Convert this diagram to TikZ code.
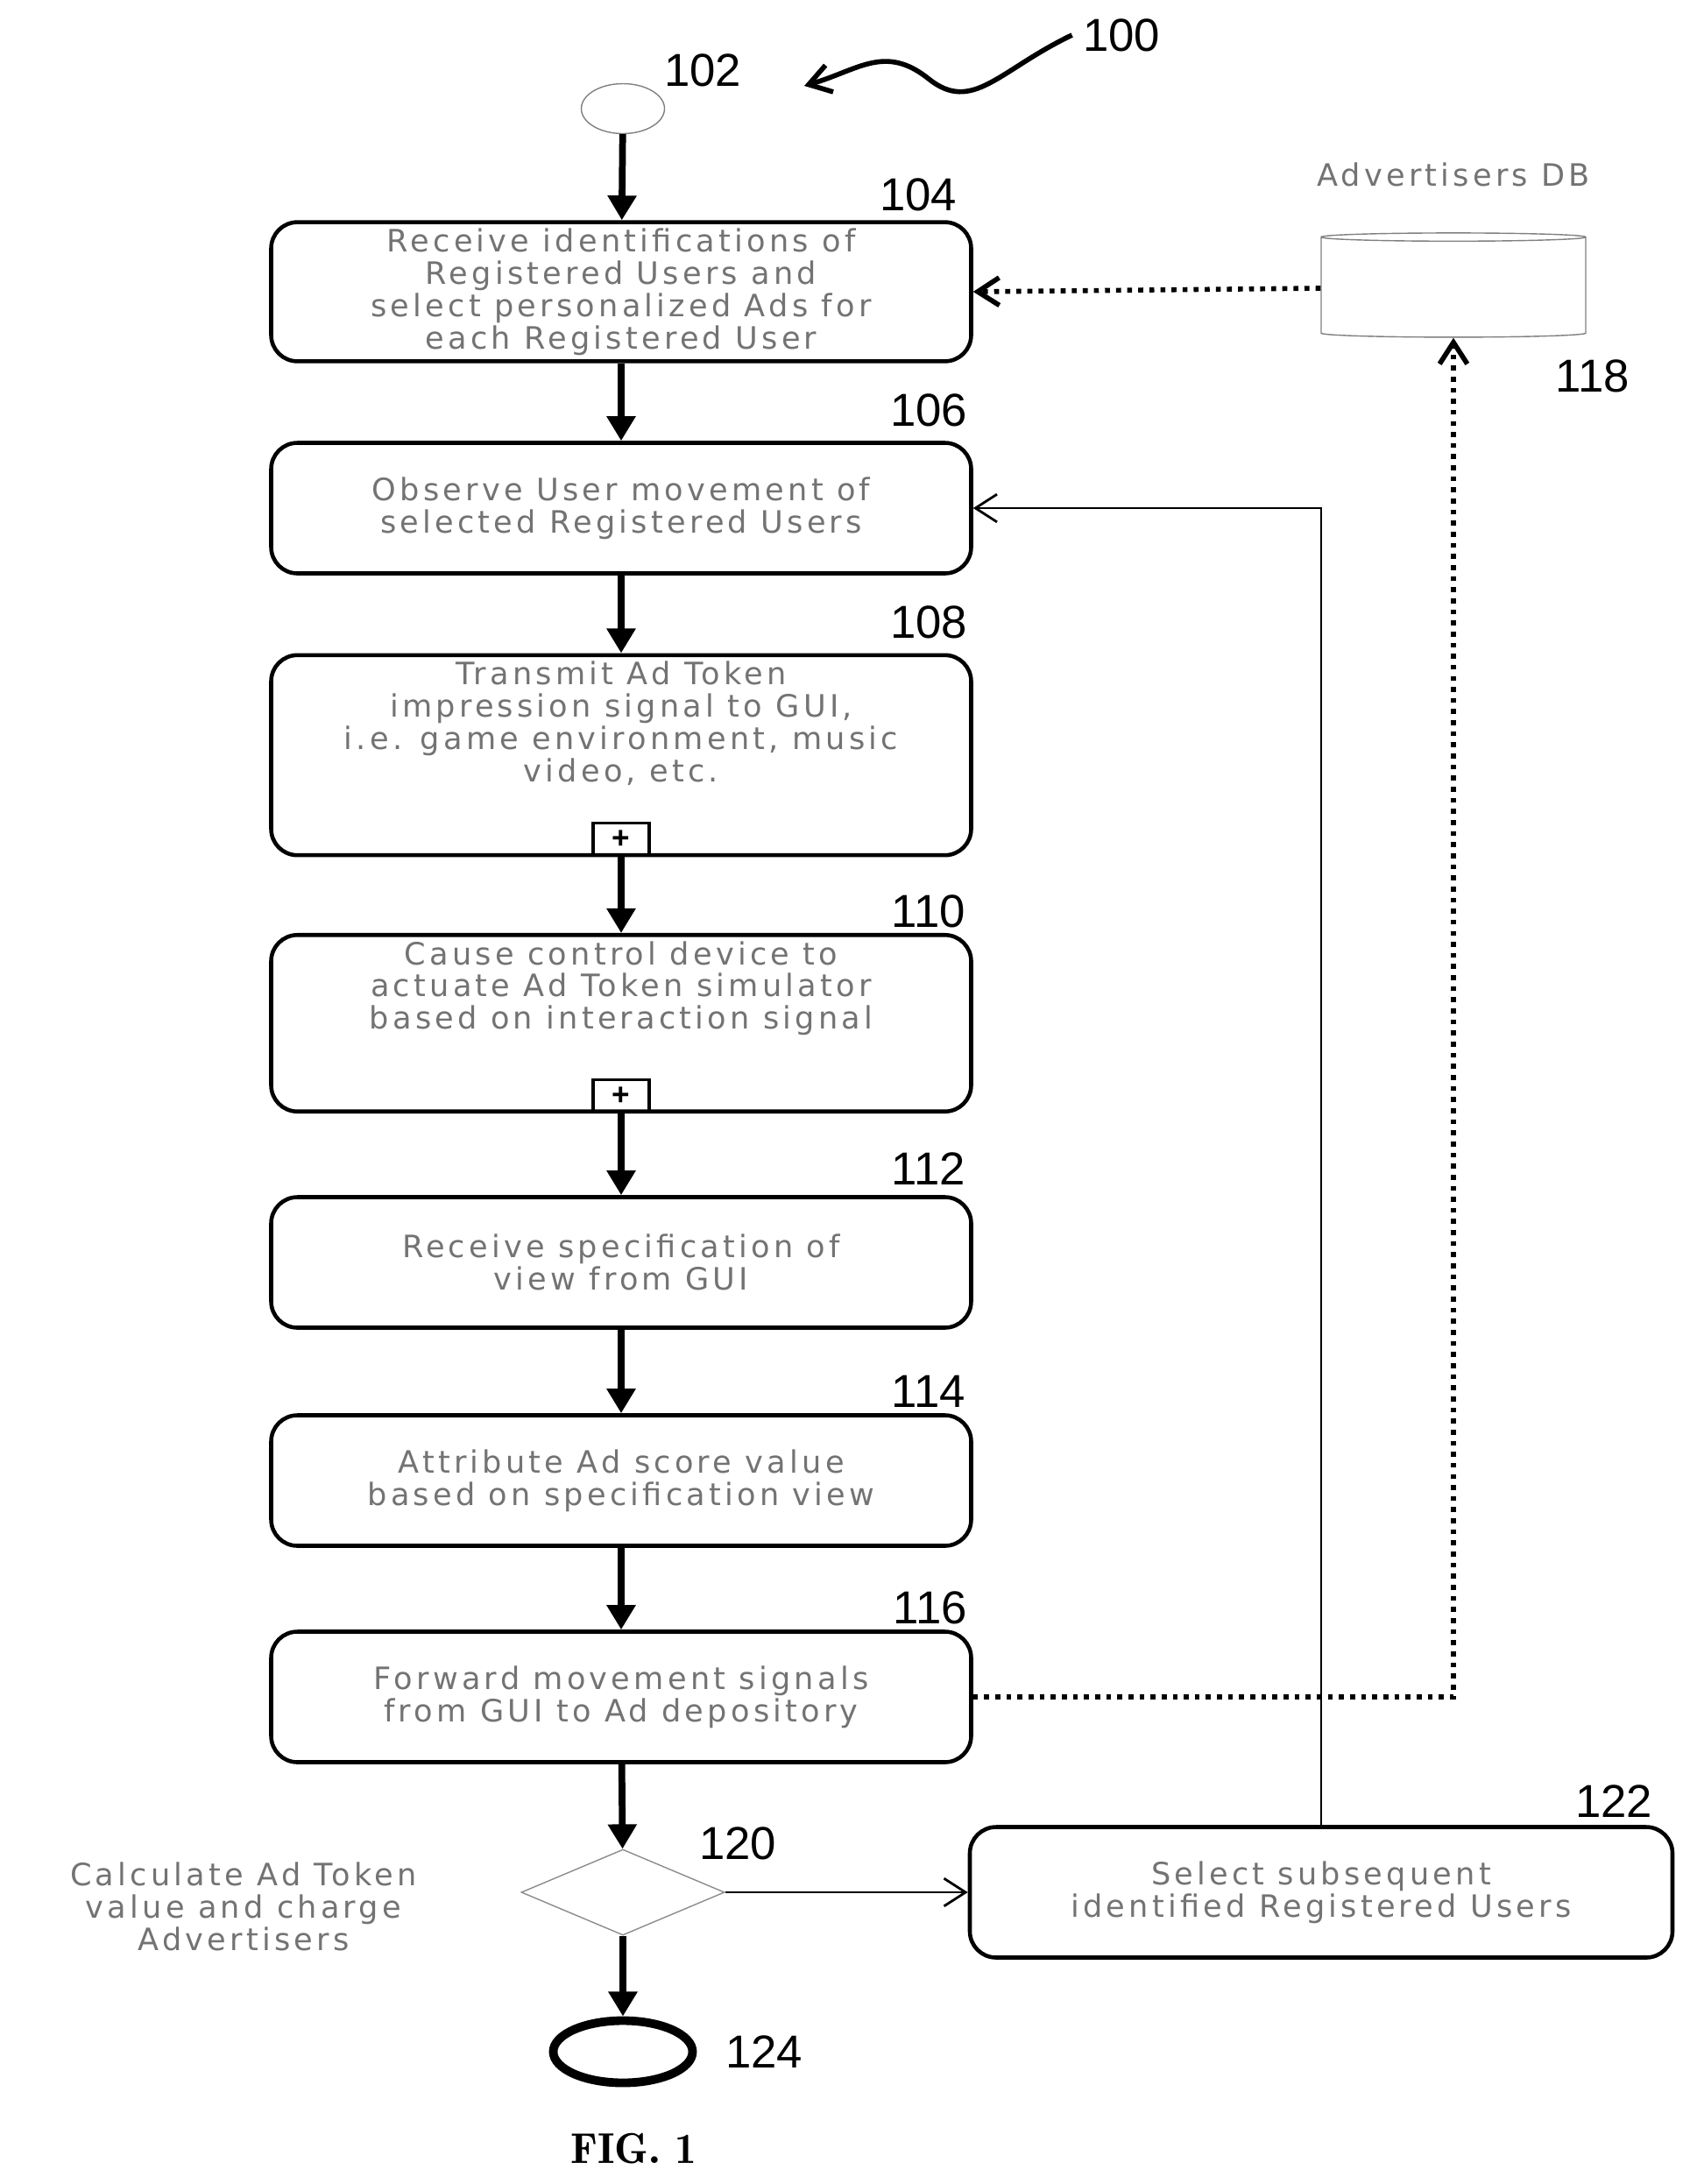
\documentclass[tikz,border=0pt]{standalone}
\usepackage{fontspec}
\setmainfont{Liberation Sans}
\newfontfamily\boxfont[LetterSpace=12]{DejaVu Sans}
\usetikzlibrary{shapes.geometric,positioning,arrows.meta}
\begin{document}
\begin{tikzpicture}[
  proc/.style={draw, line width=1.3pt, rounded corners=0.3cm, minimum width=7.99cm, inner sep=2pt,
    minimum height=1.49cm, align=center, text=black!55, font=\boxfont\fontsize{10}{10.5}\selectfont},
  num/.style={font=\fontsize{15}{17}\selectfont},
  flow/.style={-{Triangle[length=8pt,width=9pt]}, line width=2.2pt},
  link/.style={-{Straight Barb[length=7pt,width=9pt]}, line width=0.8pt},
  dots/.style={-{Straight Barb[length=7pt,width=9pt]}, line width=1.6pt, dotted},
  plus/.style={draw, line width=1pt, minimum width=0.64cm, minimum height=0.37cm, inner sep=0pt, font=\bfseries}]
   \useasboundingbox (0,0) rectangle (19.37,-24.93);
   \node[ellipse, draw=black!50, minimum width=0.95cm, minimum height=0.57cm] (start) at (7.11,-1.24) {};
   \node[proc] (b104) at (7.09,-3.33) {Receive identifications of\\Registered Users and\\select personalized Ads for\\each Registered User};
   \node[proc] (b106) at (7.09,-5.80) {Observe User movement of\\selected Registered Users};
   \node[proc, minimum height=2.14cm] (b108) at (7.09,-8.62) {Transmit Ad Token\\impression signal to GUI,\\i.e. game environment, music\\video, etc.\\[0.4cm]};
   \node[plus, anchor=south] (p108) at (b108.south) {+};
   \node[proc, minimum height=1.99cm] (b110) at (7.09,-11.68) {Cause control device to\\actuate Ad Token simulator\\based on interaction signal\\[0.5cm]};
   \node[plus, anchor=south] (p110) at (b110.south) {+};
   \node[proc] (b112) at (7.09,-14.41) {Receive specification of\\view from GUI};
   \node[proc] (b114) at (7.09,-16.90) {Attribute Ad score value\\based on specification view};
   \node[proc] (b116) at (7.09,-19.37) {Forward movement signals\\from GUI to Ad depository};
   \node[diamond, draw=black!45, minimum width=2.32cm, minimum height=0.98cm, inner sep=0pt] (d120) at (7.11,-21.60) {};
   \node[proc, minimum width=8.02cm] (b122) at (15.08,-21.60) {Select subsequent\\identified Registered Users};
   \node[ellipse, draw, line width=2.8pt, minimum width=1.59cm, minimum height=0.71cm] (end) at (7.11,-23.42) {};
   \node[cylinder, shape border rotate=90, draw=black!50, aspect=0.4, minimum width=3.02cm, minimum height=1.19cm] (db) at (16.59,-3.29) {};

   % labels
   \node[num] (l100) at (12.80,-0.40) {100};
   \node[num] at (8.02,-0.80) {102};
   \node[num] at (10.48,-2.22) {104};
   \node[num] at (10.60,-4.68) {106};
   \node[num] at (10.60,-7.10) {108};
   \node[num] at (10.60,-10.40) {110};
   \node[num] at (10.60,-13.34) {112};
   \node[num] at (10.60,-15.88) {114};
   \node[num] at (10.62,-18.35) {116};
   \node[num] at (18.18,-4.29) {118};
   \node[num] at (8.42,-21.04) {120};
   \node[num] at (18.42,-20.56) {122};
   \node[num] at (8.72,-23.42) {124};
   \node[font=\boxfont\fontsize{10}{11}\selectfont, text=black!55] at (16.59,-1.99) {Advertisers DB};
   \node[font=\boxfont\fontsize{10}{10.5}\selectfont, text=black!55, align=center] at (2.78,-21.76) {Calculate Ad Token\\value and charge\\Advertisers};
   \node[font=\fontfamily{lmr}\bfseries\fontsize{14}{16}\selectfont] at (7.23,-24.53) {FIG. 1};

   % squiggle to 100
   \coordinate (c100) at (9.18,-0.98);
   \draw[link, line width=1.6pt] (l100.west) .. controls (11.4,-0.8) and (11.1,-1.3) .. (10.6,-0.9)
      .. controls (10.1,-0.5) and (9.8,-0.8) .. (c100);

   % flow
   \draw[flow] (start) -- (b104);
   \draw[flow] (b104) -- (b106);
   \draw[flow] (b106) -- (b108);
   \draw[flow] (p108) -- (b110);
   \draw[flow] (p110) -- (b112);
   \draw[flow] (b112) -- (b114);
   \draw[flow] (b114) -- (b116);
   \draw[flow] (b116) -- (d120);
   \draw[flow] (d120) -- (end);
   \draw[link] (d120) -- (b122);
   \draw[link] (b122.north) |- (b106.east);
   \draw[dots] (db.west) -- (b104.east);
   \draw[dots] (b116.east) -| (db.south);
\end{tikzpicture}
\end{document}
